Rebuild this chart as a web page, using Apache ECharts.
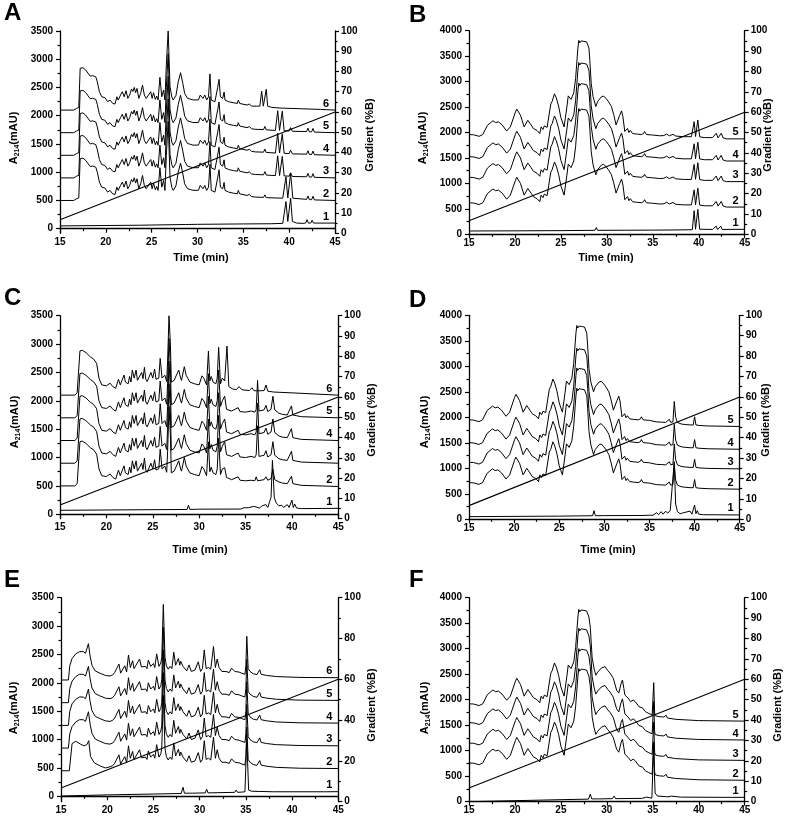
<!DOCTYPE html>
<html><head><meta charset="utf-8">
<script src="https://cdn.jsdelivr.net/npm/echarts@6/dist/echarts.min.js"></script>
<style>html,body{margin:0;padding:0;background:#fff}#c{width:786px;height:821px}</style>
</head><body><div id="c"></div>
<script>
// ---------------- DATA ----------------
const xTicks = [15, 20, 25, 30, 35, 40, 45];
const yTicks3500 = [0, 500, 1000, 1500, 2000, 2500, 3000, 3500];
const yMinor3500 = [250, 750, 1250, 1750, 2250, 2750, 3250];
const yTicks4000 = [0, 500, 1000, 1500, 2000, 2500, 3000, 3500, 4000];
const yMinor4000 = [250, 750, 1250, 1750, 2250, 2750, 3250, 3750];
const gradient = [[15, 6.7], [45, 60]];

// Panel A (relative profile shared by traces 2-6, mAU above each trace baseline)
const A_main = [[15,0],[16.5,0],[16.8,30],[16.95,50],[17.05,45],[17.2,740],[17.5,750],[17.8,710],[18.3,600],[18.55,610],[18.75,630],[18.9,590],[19.07,500],[19.3,325],[19.55,236],[19.9,220],[20.2,148],[20.45,178],[20.75,118],[21.0,107],[21.2,236],[21.35,178],[21.6,266],[21.8,325],[22.0,236],[22.2,343],[22.4,207],[22.6,266],[22.8,373],[22.95,330],[23.1,402],[23.25,308],[23.4,384],[23.6,207],[23.8,296],[24.0,443],[24.2,266],[24.4,207],[24.6,240],[24.9,325],[25.05,207],[25.2,308],[25.4,189],[25.55,248],[25.7,178],[25.9,580],[26.1,236],[26.3,355],[26.45,178],[26.6,800],[26.8,1400],[27.0,414],[27.2,230],[27.35,178],[27.65,260],[27.9,500],[28.15,662],[28.4,473],[28.6,296],[28.9,210],[29.2,195],[29.5,180],[29.7,210],[30.1,180],[30.3,266],[30.45,296],[30.6,207],[30.8,266],[31.0,178],[31.2,236],[31.36,640],[31.5,178],[31.7,178],[31.9,148],[32.2,402],[32.35,544],[32.5,236],[32.75,207],[32.9,320],[33.0,178],[33.4,148],[33.9,130],[34.35,118],[34.45,178],[34.6,118],[35.4,89],[35.65,107],[35.9,70]];
const A_tail6 = [[36.45,70],[36.8,70],[37.0,337],[37.18,70],[37.5,367],[37.65,70],[38.1,48],[39.0,36],[41.2,24],[43.4,12],[45,0]];
const A_tail345 = [[36.3,60],[37.2,55],[37.35,110],[37.5,50],[38.5,40],[38.75,390],[38.95,40],[39.25,380],[39.45,35],[40.0,30],[40.15,90],[40.35,25],[41.9,20],[42.05,80],[42.2,15],[42.45,15],[42.6,75],[42.75,10],[45,0]];
const A_tail2 = [[36.3,60],[37.2,55],[37.35,100],[37.5,50],[39.3,40],[39.65,420],[39.85,45],[40.16,480],[40.4,40],[41.9,20],[42.05,80],[42.2,15],[42.45,15],[42.6,75],[42.75,10],[45,0]];
const A_trace1 = [[15,50],[23.7,62],[23.8,72],[23.9,62],[28.7,75],[28.85,110],[29.0,75],[30,78],[35,85],[38,88],[39.3,95],[39.45,120],[39.65,480],[39.85,130],[40.0,140],[40.16,540],[40.35,130],[40.8,100],[41.5,95],[41.8,100],[41.95,160],[42.1,100],[42.35,100],[42.5,150],[42.65,100],[45,100]];
const A_offsets = [500, 900, 1300, 1700, 2100];

// Panel C
const C_main = [[15,0],[16.6,0],[16.85,40],[17.0,30],[17.15,780],[17.4,790],[17.8,750],[18.3,670],[18.6,640],[18.8,640],[18.95,560],[19.2,300],[19.5,180],[20.0,165],[20.4,210],[20.7,150],[21.0,120],[21.3,278],[21.5,180],[21.6,210],[21.9,354],[22.05,230],[22.2,250],[22.35,200],[22.5,330],[22.65,230],[22.8,442],[23.0,300],[23.2,442],[23.35,260],[23.5,270],[23.8,400],[23.95,290],[24.1,490],[24.25,280],[24.4,240],[24.6,320],[24.8,400],[25.0,300],[25.2,460],[25.35,280],[25.5,260],[25.65,300],[25.8,648],[26.0,300],[26.15,280],[26.3,350],[26.5,240],[26.6,600],[26.75,1400],[26.9,900],[27.0,230],[27.3,260],[27.5,230],[27.8,442],[28.0,300],[28.1,260],[28.4,501],[28.6,350],[28.7,320],[29.0,230],[29.5,200],[30.0,180],[30.3,340],[30.5,300],[30.8,180],[30.9,200],[31.0,777],[31.15,250],[31.3,330],[31.5,230],[31.8,200],[31.95,300],[32.1,842],[32.3,200],[32.5,300],[32.6,330]];
const C_tail6 = [[32.75,250],[33.0,865],[33.2,150],[33.6,110],[34.0,95],[34.3,150],[34.6,95],[35.4,80],[35.7,130],[35.9,80],[36.2,75],[37.0,80],[37.2,178],[37.4,70],[38.0,55],[40.0,40],[45,0]];
const C_tail345 = [[32.75,380],[32.95,150],[33.5,120],[34.2,180],[34.4,110],[35.0,100],[35.6,120],[36.0,100],[36.15,150],[36.3,660],[36.45,120],[37.0,140],[37.2,220],[37.4,110],[37.75,150],[37.95,380],[38.15,140],[38.6,80],[38.8,100],[39.0,60],[39.5,50],[39.95,210],[40.1,50],[41,20],[45,0]];
const C_tail2 = [[32.75,320],[32.95,150],[33.5,110],[34.2,160],[34.4,100],[35.0,90],[35.6,100],[36.0,90],[36.15,160],[36.3,90],[37.0,110],[37.2,160],[37.4,100],[37.75,130],[37.95,290],[38.15,110],[38.6,70],[39.0,50],[39.5,40],[39.95,170],[40.1,40],[41,10],[45,-10]];
const C_trace1 = [[15,70],[28.7,85],[28.85,160],[29.0,85],[30,90],[34.5,92],[34.8,115],[35,95],[35.3,115],[35.5,95],[35.9,140],[36.1,110],[36.5,110],[36.8,150],[37.0,130],[37.2,170],[37.4,120],[37.6,150],[37.75,300],[37.9,950],[38.1,300],[38.3,200],[38.6,150],[38.9,160],[39.1,120],[39.5,170],[39.7,120],[40.0,250],[40.15,120],[40.3,180],[40.5,110],[41,100],[45,105]];
const C_offsets = [500, 900, 1300, 1700, 2100];

// Panel E
const E_early36 = [[15,0],[15.8,0],[15.95,250],[16.2,380],[16.6,460],[17.0,500],[17.4,500],[17.65,470],[17.8,500],[17.97,640],[18.15,420],[18.35,260],[18.7,160],[19.2,120],[19.8,80]];
const E_early2 = [[15,0],[15.9,0],[16.2,480],[16.6,520],[17.1,470],[17.5,440],[17.8,460],[18.0,530],[18.2,250],[18.6,140],[19.3,80],[19.8,50]];
const E_main = [[20.3,70],[20.6,90],[20.8,130],[21.0,100],[21.27,280],[21.45,120],[21.6,150],[21.9,250],[22.1,140],[22.3,440],[22.5,220],[22.75,340],[22.9,200],[23.1,180],[23.5,370],[23.7,230],[23.9,210],[24.15,240],[24.3,200],[24.45,350],[24.7,240],[25.0,290],[25.15,220],[25.35,460],[25.6,240],[25.8,300],[25.9,400],[26.07,1330],[26.25,400],[26.4,250],[26.6,190],[26.8,240],[27.0,200],[27.2,490],[27.4,260],[27.5,300],[27.7,380],[27.85,260],[27.95,330],[28.2,240],[28.6,160],[28.85,265],[29.1,150],[29.5,175],[29.85,320],[30.1,150],[30.3,200],[30.5,530],[30.7,200],[30.95,220],[31.2,190],[31.5,590],[31.7,220],[31.9,370],[32.1,220],[32.4,150],[32.85,150],[33.2,130],[33.45,210],[33.8,150],[34.25,140],[34.55,120],[34.9,100],[35.0,250],[35.1,770],[35.25,200],[35.45,150],[35.8,110],[36.2,95],[36.35,110],[36.5,180],[36.65,100],[37.25,80],[38.3,60],[40.85,45],[45,40]];
const E_trace1 = [[15,5],[20,25],[25,40],[28.0,50],[28.2,160],[28.35,55],[29.0,55],[29.1,90],[29.25,55],[30.6,60],[30.76,125],[30.9,60],[33.8,70],[33.95,110],[34.1,70],[34.6,75],[34.9,80],[35.1,1000],[35.3,110],[35.6,90],[36.5,85],[36.6,120],[36.75,85],[38,80],[43.4,80],[43.55,110],[43.7,80],[45,82]];
const E_offsets = [450, 850, 1250, 1650, 2050];

// Panels B, D, F (shared early profile of traces 2-5)
const BDF_early = [[15,0],[15.5,-5],[16.1,-35],[16.5,0],[17.0,180],[17.6,270],[17.9,235],[18.2,250],[18.6,190],[19.1,70],[19.5,150],[20.05,440],[20.2,500],[20.6,380],[21.0,150],[21.4,280],[21.75,190],[22.0,120],[22.4,80],[22.7,20],[22.85,150],[23.05,100],[23.2,170],[23.5,140],[23.7,170],[23.9,600],[24.05,650],[24.15,620],[24.3,800],[24.5,720],[24.75,560],[25.0,330],[25.35,150],[25.65,540],[25.8,760],[26.1,690],[26.4,820],[26.6,1100],[26.85,1700],[26.95,1850],[27.05,1800],[27.2,1840],[27.35,1810],[27.5,1830],[27.65,1800],[27.8,1820],[27.95,1790],[28.05,1700]];
const BD_mid = [[28.15,1450],[28.3,1000],[28.5,744],[28.8,550],[29.0,650],[29.4,740],[29.65,757],[29.95,700],[30.2,640],[30.5,550],[30.75,390],[31.0,190],[31.2,160],[31.4,380],[31.6,465],[31.75,350],[31.95,60],[32.1,60],[32.25,120],[32.4,40],[32.55,80],[32.8,20],[33.2,10],[33.75,0],[34.0,20],[34.1,60],[34.3,0],[35.0,-10]];
const B_tail = [[35.75,-25],[36.2,-20],[36.5,10],[36.8,-25],[37.2,5],[37.3,30],[37.5,-30],[38.3,-42],[39.2,-42],[39.5,253],[39.65,-40],[39.9,286],[40.1,-45],[40.6,-60],[41.5,-60],[41.9,25],[42.1,-65],[42.45,25],[42.65,-65],[43,-85],[45,-85]];
const B_trace1 = [[15,65],[20,68],[25,72],[28.7,78],[28.85,131],[29.0,78],[32.0,80],[32.1,100],[32.2,80],[35,82],[37.2,85],[37.3,100],[37.4,85],[39.3,90],[39.5,465],[39.65,100],[39.9,491],[40.1,100],[41.5,95],[41.9,160],[42.05,95],[42.4,160],[42.55,95],[45,98]];
const B_offsets = [620, 1120, 1525, 1960];
const D_tail = [[35.75,-40],[36.3,-45],[36.8,-50],[37.0,-40],[37.2,10],[37.35,-50],[37.6,-40],[37.75,360],[37.9,50],[38.1,-50],[38.5,-80],[38.7,-50],[38.85,-90],[39.5,-100],[39.85,-100],[40.0,60],[40.15,-100],[40.5,-110],[41.5,-120],[45,-130]];
const D_trace1 = [[15,52],[25,62],[28.7,70],[28.85,170],[29.0,70],[30,72],[34.4,75],[34.5,100],[34.6,75],[35.0,80],[35.2,110],[35.4,80],[35.8,130],[36.0,90],[36.3,150],[36.5,100],[36.8,160],[37.0,120],[37.3,170],[37.5,140],[37.75,1130],[37.9,300],[38.1,150],[38.4,110],[38.8,130],[39.0,100],[39.5,160],[39.7,100],[40.0,280],[40.15,110],[40.3,170],[40.45,100],[41,90],[45,85]];
const D_offsets = [720, 1118, 1503, 1950];
const F_mid = [[28.2,1500],[28.4,900],[28.6,700],[28.8,560],[29.0,620],[29.4,700],[29.8,730],[30.1,650],[30.35,600],[30.7,500],[31.06,270],[31.3,210],[31.4,205],[31.55,400],[31.7,466],[31.85,300],[31.96,172],[32.3,113],[32.45,140],[32.6,41],[32.86,74],[33.1,40],[33.3,50],[33.5,-57],[33.87,-80],[34.0,-60],[34.2,-155],[34.57,-190],[34.93,-220],[35.0,-200],[35.1,414],[35.2,-180],[35.27,-235],[35.7,-253],[36.2,-260],[36.45,-225],[36.6,-280],[37.5,-305],[40,-330],[45,-340]];
const F_trace1 = [[15,0],[20,20],[25,40],[28.0,50],[28.2,150],[28.35,55],[29.0,55],[29.1,80],[29.25,55],[30.6,60],[30.8,111],[30.95,60],[33.8,65],[33.9,95],[34.0,65],[34.3,90],[34.4,65],[34.9,70],[35.08,1050],[35.25,170],[35.5,110],[36.4,100],[36.5,130],[36.65,95],[37.0,110],[38,90],[43.4,85],[43.55,105],[43.7,85],[45,86]];
const F_offsets = [760, 1150, 1550, 1920];

// ---------------- BUILD ----------------
const FONT = '"Liberation Sans", Arial, Helvetica, sans-serif';
function shift(profile, off) { return profile.map(p => [p[0], p[1] + off]); }
const plain = v => String(v);

const panels = [
  { letter:'A', grid:{left:60, top:31, width:275, height:202.3}, lmin:-81, lmax:3500, ticks:yTicks3500, minor:yMinor3500, rInt:10,
    traces:[A_trace1, shift(A_main.concat(A_tail2), A_offsets[0]), shift(A_main.concat(A_tail345), A_offsets[1]), shift(A_main.concat(A_tail345), A_offsets[2]), shift(A_main.concat(A_tail345), A_offsets[3]), shift(A_main.concat(A_tail6), A_offsets[4])],
    xTitle:[201, 258], lTitle:[12, 138], rTitle:[370, 135], letterPos:[4, 1] },
  { letter:'B', grid:{left:469, top:30.7, width:275.7, height:203.6}, lmin:0, lmax:4000, ticks:yTicks4000, minor:yMinor4000, rInt:10,
    traces:[B_trace1].concat(B_offsets.map(o => shift(BDF_early.concat(BD_mid, B_tail), o))),
    xTitle:[606, 258], lTitle:[421, 138], rTitle:[768, 135], letterPos:[409, 3] },
  { letter:'C', grid:{left:60, top:315.7, width:278.3, height:203}, lmin:-78, lmax:3500, ticks:yTicks3500, minor:yMinor3500, rInt:10,
    traces:[C_trace1, shift(C_main.concat(C_tail2), C_offsets[0]), shift(C_main.concat(C_tail345), C_offsets[1]), shift(C_main.concat(C_tail345), C_offsets[2]), shift(C_main.concat(C_tail345), C_offsets[3]), shift(C_main.concat(C_tail6), C_offsets[4])],
    xTitle:[200, 550], lTitle:[13, 422], rTitle:[372, 420], letterPos:[4, 286] },
  { letter:'D', grid:{left:469, top:315.3, width:270.7, height:204}, lmin:0, lmax:4000, ticks:yTicks4000, minor:yMinor4000, rInt:10,
    traces:[D_trace1].concat(D_offsets.map(o => shift(BDF_early.concat(BD_mid, D_tail), o))),
    xTitle:[608, 550], lTitle:[423, 422], rTitle:[766, 420], letterPos:[409, 288] },
  { letter:'E', grid:{left:61, top:597.7, width:277.3, height:204}, lmin:-95, lmax:3500, ticks:yTicks3500, minor:yMinor3500, rInt:20,
    traces:[E_trace1, shift(E_early2.concat(E_main), E_offsets[0])].concat(E_offsets.slice(1).map(o => shift(E_early36.concat(E_main), o))),
    xTitle:null, lTitle:[12, 708], rTitle:[372, 705], letterPos:[4, 568] },
  { letter:'F', grid:{left:469, top:597.7, width:275.7, height:204}, lmin:0, lmax:4000, ticks:yTicks4000, minor:yMinor4000, rInt:10,
    traces:[F_trace1].concat(F_offsets.map(o => shift(BDF_early.concat(F_mid), o))),
    xTitle:null, lTitle:[423, 708], rTitle:[778, 705], letterPos:[409, 568] }
];

const axisLine = { show:true, lineStyle:{ color:'#000', width:1.3 } };
const tickStyle = { color:'#000', width:1.2 };
const labelStyle = { color:'#000', fontFamily:FONT, fontWeight:'bold', fontSize:10, formatter:plain };

const grids = [], xAxes = [], yAxes = [], series = [], graphics = [];
panels.forEach((p, i) => {
  grids.push(Object.assign({ containLabel:false }, p.grid));
  xAxes.push({ gridIndex:i, type:'value', min:15, max:45, interval:5, axisLine, splitLine:{show:false},
    axisTick:{ show:true, length:4, lineStyle:tickStyle }, minorTick:{ show:true, splitNumber:2, length:2.5, lineStyle:tickStyle },
    axisLabel:Object.assign({ margin:4, customValues:xTicks }, labelStyle) });
  const yl = yAxes.length;
  yAxes.push({ gridIndex:i, type:'value', position:'left', min:p.lmin, max:p.lmax, axisLine, splitLine:{show:false},
    axisTick:{ show:true, length:4, lineStyle:tickStyle, customValues:p.ticks },
    axisLabel:Object.assign({ margin:7, customValues:p.ticks }, labelStyle) });
  yAxes.push({ gridIndex:i, type:'value', position:'left', min:p.lmin, max:p.lmax, axisLine:{show:false}, splitLine:{show:false},
    axisTick:{ show:true, length:2.5, lineStyle:tickStyle, customValues:p.minor }, axisLabel:{ show:false, customValues:p.minor } });
  const yr = yAxes.length;
  yAxes.push({ gridIndex:i, type:'value', position:'right', min:0, max:100, interval:p.rInt, axisLine, splitLine:{show:false},
    axisTick:{ show:true, length:4, lineStyle:tickStyle }, minorTick:{ show:true, splitNumber:2, length:2.5, lineStyle:tickStyle },
    axisLabel:Object.assign({ margin:6 }, labelStyle) });
  p.traces.forEach((d, k) => {
    series.push({ type:'line', xAxisIndex:i, yAxisIndex:yl, data:d, showSymbol:false, symbol:'none', silent:true,
      lineStyle:{ color:'#000', width:1 },
      endLabel:{ show:true, formatter:String(k + 1), color:'#000', fontFamily:FONT, fontWeight:'bold', fontSize:11,
        align:'right', verticalAlign:'bottom', distance:-6, padding:[0,0,1,0] } });
  });
  series.push({ type:'line', xAxisIndex:i, yAxisIndex:yr, data:gradient, showSymbol:false, symbol:'none', silent:true,
    lineStyle:{ color:'#000', width:1.1 } });

  graphics.push({ type:'text', left:p.letterPos[0], top:p.letterPos[1],
    style:{ text:p.letter, fill:'#000', font:'bold 24px ' + FONT } });
  if (p.xTitle) graphics.push({ type:'text', x:p.xTitle[0], y:p.xTitle[1],
    style:{ text:'Time (min)', fill:'#000', font:'bold 11px ' + FONT, align:'center', verticalAlign:'middle' } });
  graphics.push({ type:'text', x:p.lTitle[0], y:p.lTitle[1], rotation:Math.PI / 2,
    style:{ text:'{n|A}{s|214}{n|(mAU)}', align:'center', verticalAlign:'middle',
      rich:{ n:{ fontFamily:FONT, fontWeight:'bold', fontSize:11, fill:'#000', lineHeight:14, verticalAlign:'bottom' },
             s:{ fontFamily:FONT, fontWeight:'bold', fontSize:7, fill:'#000', lineHeight:14, verticalAlign:'bottom', padding:[0,0,-2,0] } } } });
  graphics.push({ type:'text', x:p.rTitle[0], y:p.rTitle[1], rotation:Math.PI / 2,
    style:{ text:'Gradient (%B)', fill:'#000', font:'bold 11px ' + FONT, align:'center', verticalAlign:'middle' } });
});

const chart = echarts.init(document.getElementById('c'), null, { renderer:'canvas' });
chart.setOption({ animation:false, backgroundColor:'#fff', grid:grids, xAxis:xAxes, yAxis:yAxes, series, graphic:graphics });
</script></body></html>
